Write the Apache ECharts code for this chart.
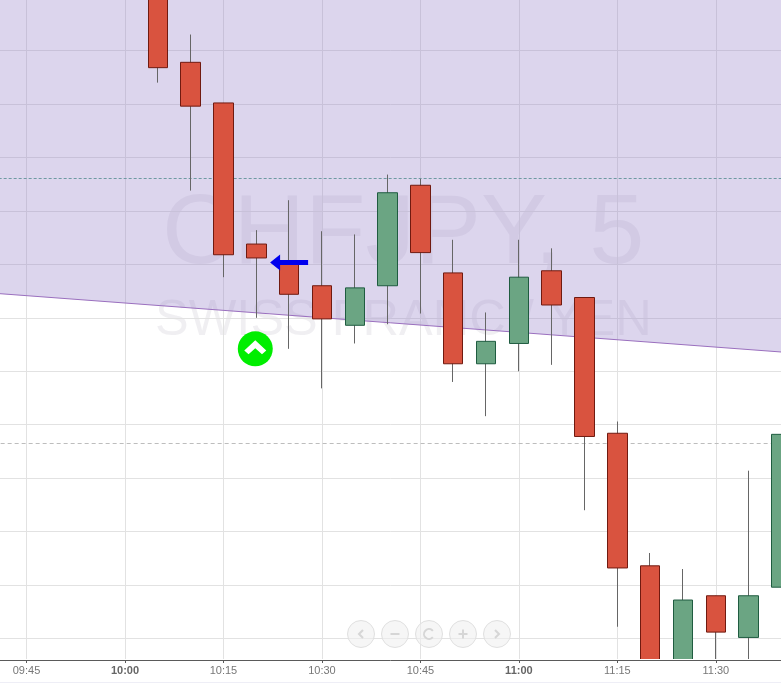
<!DOCTYPE html>
<html>
<head>
<meta charset="utf-8">
<title>CHFJPY, 5</title>
<style>
  html, body { margin: 0; padding: 0; background: #fff; }
  #chart { width: 781px; height: 683px; }
</style>
<script src="https://cdn.jsdelivr.net/npm/echarts@6/dist/echarts.min.js"></script>
</head>
<body>
<div id="chart"></div>
<script>
// 5 minute bars, first ones scroll off the top of the window
const categories = ['09:40', '09:45', '09:50', '09:55', '10:00', '10:05', '10:10', '10:15', '10:20', '10:25',
  '10:30', '10:35', '10:40', '10:45', '10:50', '10:55', '11:00', '11:05', '11:10', '11:15',
  '11:20', '11:25', '11:30', '11:35', '11:40'];
const boldLabels = ['10:00', '11:00'];

const openPrices = [null, null, null, null, null, 115.316, 115.239, 115.201, 115.069, 115.052,
  115.030, 114.993, 115.030, 115.124, 115.042, 114.957, 114.976, 115.044, 115.019, 114.892,
  114.768, 114.652, 114.740, 114.701, 114.748];
const closePrices = [null, null, null, null, null, 115.234, 115.198, 115.059, 115.056, 115.022,
  114.999, 115.028, 115.117, 115.061, 114.957, 114.978, 115.038, 115.012, 114.889, 114.766,
  114.642, 114.736, 114.706, 114.740, 114.891];
const lowPrices = [null, null, null, null, null, 115.220, 115.119, 115.038, 115.000, 114.971,
  114.934, 114.976, 114.994, 115.004, 114.940, 114.908, 114.950, 114.956, 114.820, 114.711,
  114.624, 114.640, 114.661, 114.661, 114.737];
const highPrices = [null, null, null, null, null, 115.325, 115.265, 115.201, 115.082, 115.110,
  115.081, 115.078, 115.134, 115.130, 115.073, 115.005, 115.073, 115.065, 115.019, 114.903,
  114.780, 114.765, 114.740, 114.857, 114.919];

const gridLevels = [114.70, 114.75, 114.80, 114.85, 114.90, 114.95, 115.00, 115.05, 115.10, 115.15, 115.20, 115.25];
const trendTimes = ['09:40', '11:40'];
const trendPrices = [115.023, 114.968];
const greenLevel = 115.1303;
const greyLevel = 114.8824;
const signalTimes = ['10:20'];
const signalPrices = [114.971];
const arrowTimes = ['10:25'];
const arrowPrices = [115.0517];

const watermarkTitle = 'CHFJPY, 5';
const watermarkSub = 'SWISS FRANC / YEN';

const UP_FILL = '#6ba583', UP_BORDER = '#1f5c40';
const DOWN_FILL = '#d9533f', DOWN_BORDER = '#701a10';
const GRID_COLOR = '#e2e2e2';
const FONT = '"Liberation Sans", Arial, sans-serif';

// every third bar gets a label, tick and grid line
const onQuarter = function(index) {
  return (index - 1) % 3 === 0;
};

const wickData = categories.map(function(c, i) {
  return openPrices[i] === null ? '-' : [openPrices[i], closePrices[i], lowPrices[i], highPrices[i]];
});
// same bars without wicks, so the border can be darker than the wick
const bodyData = categories.map(function(c, i) {
  if (openPrices[i] === null) return '-';
  const o = openPrices[i], k = closePrices[i];
  return [o, k, Math.min(o, k), Math.max(o, k)];
});

// zoom buttons at the bottom
const btnX = [361, 395, 429, 463, 497];
const BTN_Y = 634;
const glyph = { stroke: '#d6d6d6', lineWidth: 2, fill: null };
const buttons = btnX.map(function(x) {
  return {
    type: 'circle', z: 20, silent: true,
    shape: { cx: x, cy: BTN_Y, r: 13.5 },
    style: { fill: 'rgba(240,240,240,0.6)', stroke: '#e0e0e0', lineWidth: 1 },
  };
}).concat([
  { type: 'polyline', z: 21, silent: true, shape: { points: [[btnX[0] + 2, BTN_Y - 4], [btnX[0] - 2, BTN_Y], [btnX[0] + 2, BTN_Y + 4]] }, style: glyph },
  { type: 'line', z: 21, silent: true, shape: { x1: btnX[1] - 4.5, y1: BTN_Y, x2: btnX[1] + 4.5, y2: BTN_Y }, style: glyph },
  { type: 'arc', z: 21, silent: true, shape: { cx: btnX[2], cy: BTN_Y, r: 5, startAngle: 0.7, endAngle: 5.6 }, style: glyph },
  { type: 'line', z: 21, silent: true, shape: { x1: btnX[3] - 4.5, y1: BTN_Y, x2: btnX[3] + 4.5, y2: BTN_Y }, style: glyph },
  { type: 'line', z: 21, silent: true, shape: { x1: btnX[3], y1: BTN_Y - 4.5, x2: btnX[3], y2: BTN_Y + 4.5 }, style: glyph },
  { type: 'polyline', z: 21, silent: true, shape: { points: [[btnX[4] - 2, BTN_Y - 4], [btnX[4] + 2, BTN_Y], [btnX[4] - 2, BTN_Y + 4]] }, style: glyph },
]);

const chart = echarts.init(document.getElementById('chart'), null, { renderer: 'canvas' });
chart.setOption({
  animation: false,
  backgroundColor: '#ffffff',
  grid: { left: -6.34, top: 0, width: 787.84, height: 660, outerBoundsMode: 'none' },
  graphic: [
    {
      type: 'text', z: 0, silent: true,
      style: { x: 162, y: 186, text: watermarkTitle, font: '99px ' + FONT, fill: 'rgba(60,50,90,0.08)' },
    },
    {
      type: 'text', z: 0, silent: true,
      style: { x: 155, y: 296, text: watermarkSub, font: '50.5px ' + FONT, fill: 'rgba(60,50,90,0.08)' },
    },
    {
      // candlesticks are not cut at the grid edge, mask what runs below the axis
      type: 'rect', z: 8, silent: true,
      shape: { x: 0, y: 659, width: 781, height: 24 },
      style: { fill: '#ffffff' },
    },
    {
      type: 'rect', z: 8, silent: true,
      shape: { x: 0, y: 682, width: 781, height: 1 },
      style: { fill: '#eeeef6' },
    },
  ].concat(buttons),
  xAxis: [
    {
      // line, ticks and labels, above the mask
      type: 'category',
      data: categories,
      boundaryGap: false,
      z: 9,
      axisLine: { lineStyle: { color: '#5a5a5a', width: 1 } },
      axisTick: { interval: onQuarter, length: 3, lineStyle: { color: '#5a5a5a' } },
      splitLine: { show: false },
      axisLabel: {
        interval: onQuarter,
        margin: 5,
        color: '#777777',
        fontSize: 11,
        fontFamily: FONT,
        formatter: function(value) {
          return boldLabels.indexOf(value) >= 0 ? '{b|' + value + '}' : value;
        },
        rich: { b: { fontWeight: 'bold', color: '#666666', fontSize: 11, fontFamily: FONT } },
      },
    },
    {
      // vertical grid lines only, under the candles
      type: 'category',
      data: categories,
      boundaryGap: false,
      z: 0,
      axisLine: { show: false },
      axisTick: { show: false },
      axisLabel: { show: false },
      splitLine: { show: true, interval: onQuarter, lineStyle: { color: GRID_COLOR, width: 1 } },
    },
  ],
  yAxis: {
    type: 'value',
    min: 114.6799,
    max: 115.2973,
    show: false,
    splitLine: { show: false },
  },
  series: [
    {
      // shaded zone above the trend line, also carries the horizontal levels
      type: 'line',
      z: 1,
      data: trendTimes.map(function(t, i) { return [t, trendPrices[i]]; }),
      symbol: 'none',
      silent: true,
      lineStyle: { color: '#9a6fbe', width: 1 },
      areaStyle: { origin: 'end', color: 'rgba(150,128,200,0.33)', opacity: 1 },
      markLine: {
        z: 1,
        silent: true,
        symbol: 'none',
        precision: 4,
        label: { show: false },
        animation: false,
        data: gridLevels.map(function(v) {
          return { yAxis: v, lineStyle: { color: GRID_COLOR, width: 1, type: 'solid' } };
        }).concat([
          { yAxis: greenLevel, lineStyle: { color: '#5ba88f', width: 1, type: [3, 2] } },
          { yAxis: greyLevel, lineStyle: { color: '#bdbdbd', width: 1, type: [4, 3] } },
        ]),
      },
    },
    {
      type: 'candlestick',
      z: 3,
      silent: true,
      barWidth: 1,
      data: wickData,
      itemStyle: { color: '#666666', color0: '#666666', borderColor: '#666666', borderColor0: '#666666', borderWidth: 1 },
    },
    {
      type: 'candlestick',
      z: 4,
      silent: true,
      barWidth: 20,
      data: bodyData,
      itemStyle: { color: UP_FILL, color0: DOWN_FILL, borderColor: UP_BORDER, borderColor0: DOWN_BORDER, borderWidth: 1 },
    },
    {
      type: 'scatter',
      z: 5,
      silent: true,
      data: signalTimes.map(function(t, i) { return [t, signalPrices[i]]; }),
      symbol: 'circle',
      symbolSize: 35,
      symbolOffset: [-1, 0],
      itemStyle: { color: '#00ee00', opacity: 1 },
    },
    {
      type: 'scatter',
      z: 6,
      silent: true,
      data: signalTimes.map(function(t, i) { return [t, signalPrices[i]]; }),
      symbol: 'path://M0 9 L9 0 L18 9 L14.5 12.5 L9 7 L3.5 12.5 Z',
      symbolSize: [22, 14],
      symbolOffset: [-1, -1.5],
      itemStyle: { color: '#ffffff', opacity: 1 },
    },
    {
      type: 'scatter',
      z: 7,
      silent: true,
      data: arrowTimes.map(function(t, i) { return [t, arrowPrices[i]]; }),
      symbol: 'path://M0 8 L10 0 L10 5.5 L38 5.5 L38 10.5 L10 10.5 L10 16 Z',
      symbolSize: [38, 16],
      itemStyle: { color: '#0000ee', opacity: 1 },
    },
  ],
});
</script>
</body>
</html>
